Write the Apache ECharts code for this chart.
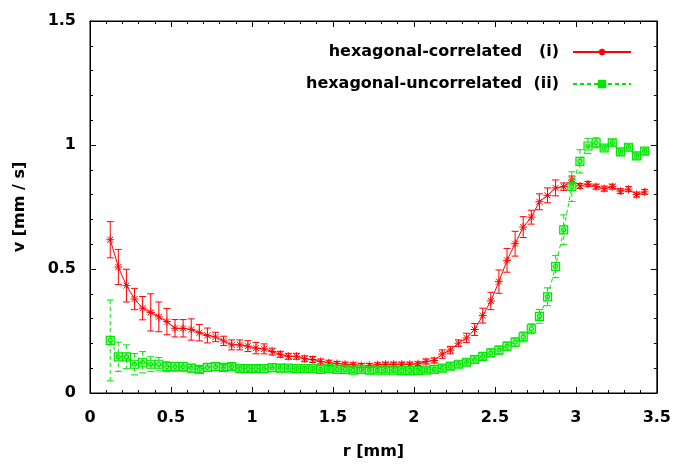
<!DOCTYPE html>
<html>
<head>
<meta charset="utf-8">
<script src="https://cdn.jsdelivr.net/npm/echarts@6/dist/echarts.min.js"></script>
<style>
html,body{margin:0;padding:0;background:#fff;}
#chart{width:674px;height:465px;}
</style>
</head>
<body>
<div id="chart"></div>
<script>
// radial positions r [mm]
var rValues = [0.125,0.175,0.225,0.275,0.325,0.375,0.425,0.475,0.525,0.575,
  0.625,0.675,0.725,0.775,0.825,0.875,0.925,0.975,1.025,1.075,
  1.125,1.175,1.225,1.275,1.325,1.375,1.425,1.475,1.525,1.575,
  1.625,1.675,1.725,1.775,1.825,1.875,1.925,1.975,2.025,2.075,
  2.125,2.175,2.225,2.275,2.325,2.375,2.425,2.475,2.525,2.575,
  2.625,2.675,2.725,2.775,2.825,2.875,2.925,2.975,3.025,3.075,
  3.125,3.175,3.225,3.275,3.325,3.375,3.425];

// (i) hexagonal-correlated
var correlatedV = [0.618,0.508,0.433,0.379,0.342,0.325,0.307,0.288,0.261,0.261,
  0.256,0.243,0.232,0.226,0.210,0.194,0.194,0.189,0.181,0.178,
  0.167,0.156,0.148,0.148,0.138,0.135,0.127,0.122,0.119,0.116,
  0.114,0.111,0.111,0.114,0.116,0.116,0.116,0.116,0.118,0.127,
  0.131,0.157,0.173,0.201,0.222,0.256,0.312,0.371,0.449,0.535,
  0.602,0.669,0.709,0.771,0.797,0.827,0.832,0.859,0.835,0.843,
  0.832,0.824,0.832,0.814,0.822,0.800,0.811];
var correlatedErr = [0.073,0.071,0.066,0.043,0.047,0.075,0.060,0.053,0.035,0.035,
  0.043,0.033,0.030,0.019,0.019,0.020,0.020,0.022,0.023,0.020,
  0.014,0.012,0.012,0.012,0.012,0.012,0.010,0.010,0.008,0.008,
  0.008,0.008,0.008,0.008,0.008,0.008,0.008,0.008,0.008,0.010,
  0.010,0.017,0.015,0.013,0.019,0.024,0.030,0.035,0.047,0.048,
  0.050,0.042,0.028,0.032,0.030,0.032,0.015,0.016,0.010,0.010,
  0.010,0.010,0.010,0.010,0.010,0.010,0.010];

// (ii) hexagonal-uncorrelated
var uncorrelatedV = [0.212,0.146,0.146,0.116,0.124,0.116,0.116,0.106,0.106,0.106,
  0.100,0.095,0.103,0.106,0.103,0.106,0.098,0.098,0.098,0.098,
  0.102,0.100,0.100,0.098,0.098,0.098,0.095,0.098,0.095,0.095,
  0.092,0.095,0.092,0.092,0.092,0.092,0.090,0.090,0.090,0.092,
  0.095,0.100,0.108,0.116,0.124,0.135,0.148,0.162,0.173,0.189,
  0.205,0.226,0.259,0.309,0.388,0.510,0.658,0.832,0.934,0.996,
  1.009,0.988,1.009,0.972,0.991,0.956,0.975];
var uncorrelatedErr = [0.163,0.059,0.048,0.043,0.043,0.030,0.027,0.020,0.018,0.018,
  0.015,0.012,0.015,0.015,0.012,0.012,0.010,0.012,0.012,0.015,
  0.015,0.015,0.012,0.010,0.010,0.010,0.010,0.010,0.010,0.010,
  0.010,0.010,0.012,0.010,0.010,0.010,0.010,0.010,0.010,0.010,
  0.010,0.012,0.012,0.012,0.012,0.014,0.014,0.015,0.016,0.016,
  0.017,0.020,0.020,0.028,0.036,0.045,0.060,0.060,0.047,0.031,
  0.020,0.012,0.012,0.012,0.012,0.012,0.012];

var xTicks = [0,0.5,1,1.5,2,2.5,3,3.5];
var yTicks = [0,0.5,1,1.5];

var nameI = 'hexagonal-correlated   (i)';
var nameII = 'hexagonal-uncorrelated  (ii)';
var RED = '#ff0000';
var GREEN = '#00e600';
var FONT = 'DejaVu Sans';

function pairs(v) { return rValues.map(function (r, i) { return [r, v[i]]; }); }
function errData(v, e) { return rValues.map(function (r, i) { return [r, v[i], e[i]]; }); }

function errRenderer(color, dashed) {
  return function (params, api) {
    var x = api.value(0), v = api.value(1), e = api.value(2);
    var top = api.coord([x, v + e]);
    var bot = api.coord([x, v - e]);
    var hw = 3.5;
    var st = { stroke: color, lineWidth: 1 };
    if (dashed) st.lineDash = [4, 3];
    return {
      type: 'group',
      children: [
        { type: 'line', shape: { x1: top[0], y1: top[1], x2: bot[0], y2: bot[1] }, style: st },
        { type: 'line', shape: { x1: top[0] - hw, y1: top[1], x2: top[0] + hw, y2: top[1] }, style: { stroke: color, lineWidth: 1 } },
        { type: 'line', shape: { x1: bot[0] - hw, y1: bot[1], x2: bot[0] + hw, y2: bot[1] }, style: { stroke: color, lineWidth: 1 } }
      ]
    };
  };
}

var axisText = { fontFamily: FONT, fontWeight: 'bold', fontSize: 16, color: '#000' };

var chart = echarts.init(document.getElementById('chart'), null, { renderer: 'canvas' });
chart.setOption({
  animation: false,
  backgroundColor: '#fff',
  grid: { left: 90, right: 16, top: 21, bottom: 71, show: true, borderColor: '#000', borderWidth: 1 },
  legend: [{
    data: [nameI], right: 42, top: 44, orient: 'vertical', align: 'right', padding: 0,
    itemWidth: 58, itemHeight: 8,
    textStyle: { fontFamily: FONT, fontWeight: 'bold', fontSize: 16, color: '#000', padding: [0, 9, 0, 0] }
  }, {
    data: [nameII], right: 42, top: 76, orient: 'vertical', align: 'right', padding: 0,
    itemWidth: 58, itemHeight: 8,
    textStyle: { fontFamily: FONT, fontWeight: 'bold', fontSize: 16, color: '#000', padding: [0, 9, 0, 0] }
  }],
  xAxis: [{
    type: 'value', min: 0, max: 3.5, interval: 0.5, position: 'bottom',
    name: 'r [mm]', nameLocation: 'middle', nameGap: 51,
    nameTextStyle: axisText,
    axisLine: { show: true, onZero: false, lineStyle: { color: '#000' } },
    axisTick: { show: true, inside: true, length: 6, lineStyle: { color: '#000' } },
    minorTick: { show: true, splitNumber: 5, length: 3, lineStyle: { color: '#000' } },
    axisLabel: Object.assign({ margin: 17, formatter: function (v) { return String(v); } }, axisText),
    splitLine: { show: false }
  }, {
    type: 'value', min: 0, max: 3.5, interval: 0.5, position: 'top',
    axisLine: { show: true, onZero: false, lineStyle: { color: '#000' } },
    axisTick: { show: true, inside: true, length: 6, lineStyle: { color: '#000' } },
    minorTick: { show: true, splitNumber: 5, length: 3, lineStyle: { color: '#000' } },
    axisLabel: { show: false }, splitLine: { show: false }
  }],
  yAxis: [{
    type: 'value', min: 0, max: 1.5, interval: 0.5, position: 'left',
    name: 'v [mm / s]', nameLocation: 'middle', nameGap: 62,
    nameTextStyle: axisText,
    axisLine: { show: true, onZero: false, lineStyle: { color: '#000' } },
    axisTick: { show: true, inside: true, length: 6, lineStyle: { color: '#000' } },
    minorTick: { show: true, splitNumber: 5, length: 3, lineStyle: { color: '#000' } },
    axisLabel: Object.assign({ margin: 14, formatter: function (v) { return String(v); } }, axisText),
    splitLine: { show: false }
  }, {
    type: 'value', min: 0, max: 1.5, interval: 0.5, position: 'right',
    axisLine: { show: true, onZero: false, lineStyle: { color: '#000' } },
    axisTick: { show: true, inside: true, length: 6, lineStyle: { color: '#000' } },
    minorTick: { show: true, splitNumber: 5, length: 3, lineStyle: { color: '#000' } },
    axisLabel: { show: false }, splitLine: { show: false }
  }],
  series: [{
    name: nameI + ' err', type: 'custom', xAxisIndex: 0, yAxisIndex: 0,
    renderItem: errRenderer(RED, false), data: errData(correlatedV, correlatedErr),
    encode: { x: 0, y: [1] }, z: 2, silent: true
  }, {
    name: nameI, type: 'line', data: pairs(correlatedV),
    symbol: 'path://M-4,0L4,0M0,-4L0,4M-3,-3L3,3M-3,3L3,-3', symbolSize: 8,
    itemStyle: { color: RED, borderColor: RED, borderWidth: 1 },
    lineStyle: { color: RED, width: 1 }, z: 3
  }, {
    name: nameII + ' err', type: 'custom', xAxisIndex: 0, yAxisIndex: 0,
    renderItem: errRenderer(GREEN, true), data: errData(uncorrelatedV, uncorrelatedErr),
    encode: { x: 0, y: [1] }, z: 4, silent: true
  }, {
    name: nameII, type: 'line', data: pairs(uncorrelatedV),
    symbol: 'path://M0,0L8,0L8,8L0,8ZM4,2A2,2,0,1,1,4,6A2,2,0,1,1,4,2Z', symbolSize: 8,
    itemStyle: { color: 'rgba(0,255,0,0.3)', borderColor: GREEN, borderWidth: 1.2 },
    lineStyle: { color: GREEN, width: 1, type: [4, 3] }, z: 5
  }]
});
</script>
</body>
</html>
